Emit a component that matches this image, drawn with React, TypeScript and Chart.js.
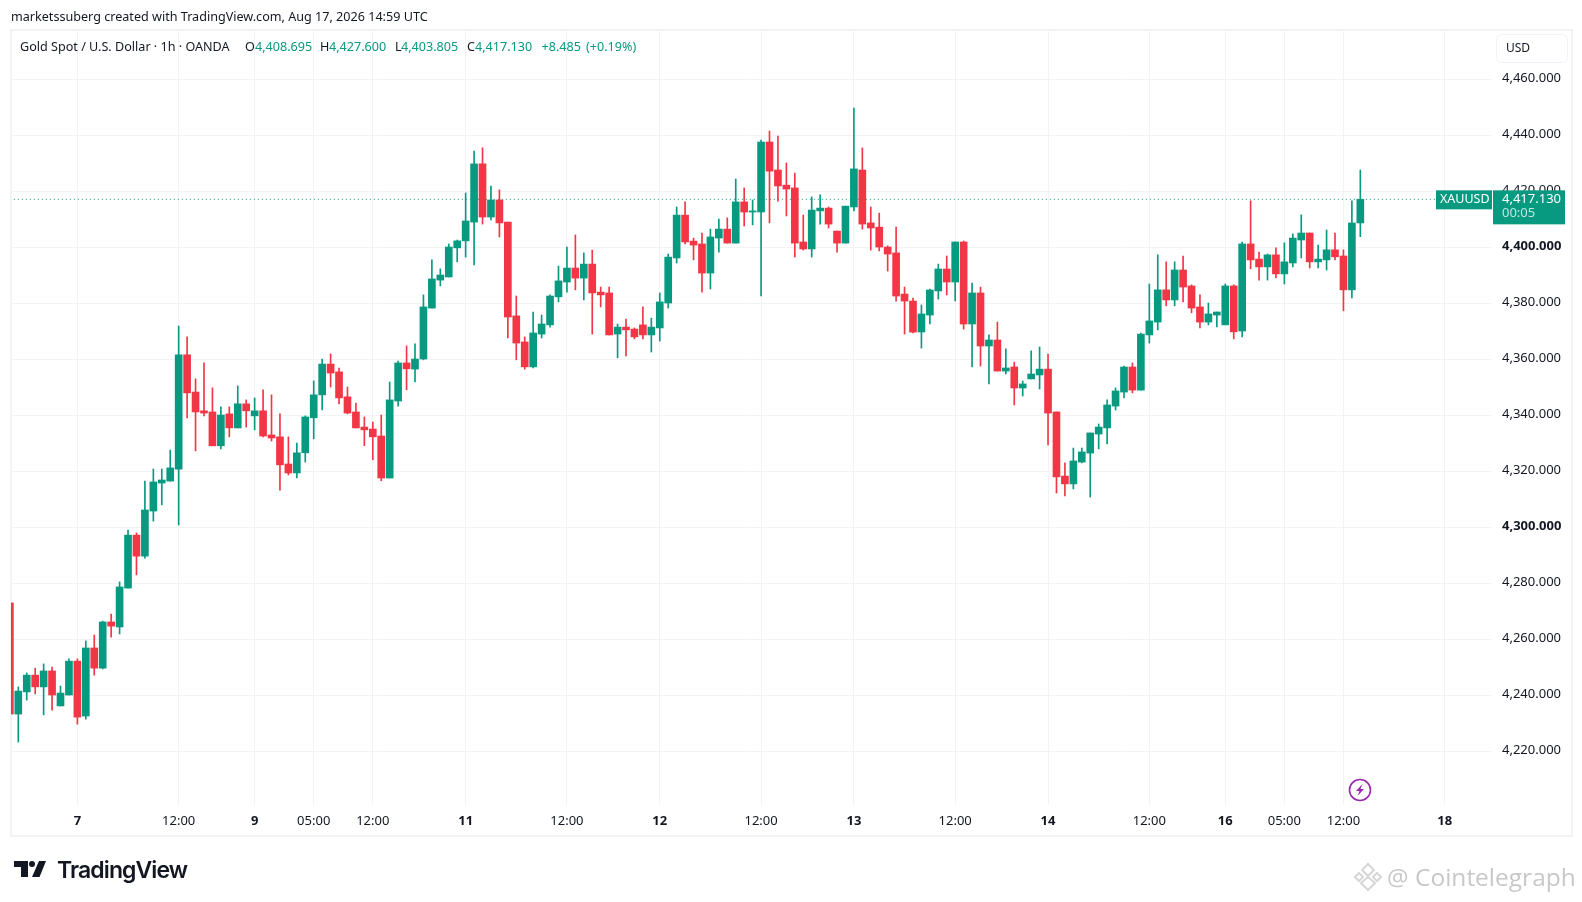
import { useEffect, useRef } from "react";
import { Chart, registerables } from "chart.js";

Chart.register(...registerables);

// hourly candles, the first one is cut by the left edge of the pane
const opens = [
  4273, 4233.3, 4241.2, 4247.2, 4243, 4248.7, 4236.2, 4240.1, 4252.2, 4232.6, 4256.9, 4249.7, 4266.2, 4264.4, 4278.3, 4297.2,
  4289.7, 4305.8, 4315.8, 4316.5, 4320.8, 4361.6, 4348.3, 4341.6, 4341.2, 4329.1, 4340.5, 4335.5, 4344.1, 4339.8, 4341.6, 4333,
  4332.3, 4322.6, 4319.4, 4326.6, 4339.1, 4347.3, 4358.3, 4355.5, 4346.6, 4341.2, 4335.8, 4335.1, 4332.6, 4317.6, 4345.1, 4358.7,
  4356.5, 4360.1, 4378.3, 4388.3, 4389.4, 4399.8, 4402.3, 4409, 4429.8, 4410.8, 4416.9, 4409, 4375.5, 4366.2, 4357.3, 4369,
  4372.3, 4382.3, 4387.6, 4392.6, 4389, 4394, 4384, 4383.7, 4369, 4371.5, 4370.8, 4372.3, 4368.7, 4371.2, 4380.1, 4396.2,
  4411.5, 4402.2, 4401.2, 4390.8, 4403.3, 4406.5, 4401.5, 4416.2, 4412.6, 4412.6, 4437.6, 4427.6, 4422.2, 4421.2, 4401.9, 4399.4,
  4413, 4414, 4405.8, 4401.5, 4414.4, 4427.6, 4408.7, 4407.2, 4400.1, 4398, 4383.3, 4380.8, 4369.75, 4375.8, 4384.4, 4392.25,
  4387.6, 4401.9, 4372.6, 4383.7, 4364.75, 4366.9, 4355.8, 4357.25, 4349.75, 4353, 4354.4, 4356.5, 4341.2, 4318.3, 4315.5, 4323.3,
  4326.5, 4333.3, 4335.5, 4343.3, 4348.3, 4357.25, 4349, 4368.7, 4373.3, 4384.8, 4381.2, 4391.9, 4386.2, 4378.7, 4373.3, 4375.8,
  4372.3, 4386.2, 4370.1, 4401.2, 4395.8, 4393, 4397.3, 4390.5, 4394.4, 4402.6, 4405.1, 4394.8, 4395.5, 4399.1, 4396.9, 4384.8,
  4408.695,
];
const highs = [
  4273, 4243, 4248, 4249.7, 4251.2, 4250.1, 4243.3, 4253, 4253, 4259.4, 4261.5, 4266.5, 4269, 4280.5, 4299, 4298,
  4316.5, 4320.8, 4320.8, 4327.6, 4371.9, 4368, 4353, 4358.7, 4349.8, 4343, 4343, 4350.5, 4345.5, 4346.2, 4349.1, 4347.3,
  4340.5, 4332.3, 4330.1, 4339.8, 4352.3, 4360.1, 4361.9, 4356.9, 4350.1, 4344.4, 4339.4, 4337.6, 4340.1, 4351.9, 4359.4, 4364.8,
  4365.5, 4383, 4395.5, 4392.3, 4401.2, 4402.6, 4419.4, 4434.4, 4435.5, 4421.9, 4420.5, 4409, 4382.6, 4368, 4376.9, 4375.8,
  4383, 4393.3, 4400.1, 4404.4, 4398, 4399, 4385.8, 4385.8, 4372.6, 4374.4, 4371.2, 4378.7, 4374.7, 4383.7, 4397.6, 4414.4,
  4416.2, 4403.3, 4405.1, 4406.5, 4410.1, 4410.5, 4424.4, 4421.2, 4416.9, 4438.3, 4441.5, 4439.7, 4430.1, 4426.5, 4411.5, 4418,
  4418.7, 4414.4, 4405.8, 4414.7, 4449.7, 4435.5, 4414.4, 4412.2, 4400.5, 4407.2, 4385.8, 4381.9, 4379.4, 4385.1, 4394, 4396.9,
  4401.9, 4402.25, 4387.25, 4385.8, 4368.7, 4373.3, 4363.7, 4359, 4352.25, 4363, 4364.4, 4361.9, 4341.2, 4323, 4328.3, 4328.3,
  4333.7, 4336.9, 4345.5, 4349.75, 4357.6, 4358.7, 4369.4, 4386.9, 4397.3, 4394.8, 4394.8, 4396.9, 4386.6, 4383, 4380.1, 4376.9,
  4386.9, 4386.6, 4401.9, 4416.6, 4398.3, 4397.6, 4399.8, 4401.6, 4404.8, 4411.6, 4405.1, 4400.8, 4406.2, 4405.1, 4399.1, 4416.6,
  4427.6,
];
const lows = [
  4233.3, 4223.3, 4238.3, 4240.5, 4233, 4234.7, 4236.2, 4240.1, 4229.7, 4231.5, 4247.2, 4249.4, 4260.8, 4261.9, 4278.3, 4283,
  4289, 4302.2, 4308, 4316.5, 4300.8, 4339.1, 4327.3, 4339.8, 4329.1, 4328, 4332.3, 4335.5, 4335.8, 4334.8, 4332.3, 4330.8,
  4313.3, 4318.7, 4317.6, 4323.3, 4331.6, 4341.9, 4350.1, 4344.1, 4340.5, 4335.5, 4329.1, 4324.1, 4316.6, 4317.6, 4343.3, 4349.1,
  4351.9, 4359.8, 4378.3, 4386.2, 4389.4, 4394.8, 4396.5, 4393.7, 4408.3, 4409.8, 4403.7, 4367.6, 4359.8, 4356.5, 4356.9, 4367.6,
  4371.5, 4380.5, 4384, 4384.8, 4381.2, 4369, 4378.7, 4368.7, 4360.5, 4361.2, 4367.3, 4367.3, 4362.6, 4366.5, 4378.3, 4394.4,
  4401.2, 4395.5, 4384, 4385.1, 4398.3, 4401.5, 4401.5, 4407.6, 4408, 4382.6, 4408.7, 4416.5, 4411.2, 4396.5, 4399, 4396.5,
  4408.3, 4406.9, 4398.3, 4401.5, 4413, 4406.5, 4399, 4398.7, 4391.5, 4380.8, 4369, 4369.4, 4364, 4372.6, 4381.5, 4383,
  4380.8, 4370.8, 4357.25, 4357.6, 4351.2, 4355.8, 4354.75, 4343.7, 4346.9, 4353, 4349.4, 4329.4, 4312.25, 4311.2, 4313.7, 4323,
  4310.8, 4328, 4329.75, 4341.9, 4346.2, 4348, 4349, 4365.8, 4370.5, 4379.1, 4379.1, 4380.5, 4376.6, 4371.2, 4372.3, 4371.6,
  4372.3, 4367.3, 4368, 4392.3, 4388.3, 4388.3, 4389.1, 4386.9, 4393, 4396.2, 4392.6, 4392.6, 4391.9, 4395.5, 4377.3, 4381.9,
  4403.805,
];
const closes = [
  4233.3, 4241.5, 4247.2, 4243, 4248.7, 4240.1, 4240.8, 4252.2, 4232.2, 4256.9, 4249.7, 4266.2, 4264.7, 4278.7, 4297.2, 4289.7,
  4306.2, 4316.2, 4316.9, 4321.2, 4361.6, 4348, 4341.2, 4340.8, 4329.1, 4340.1, 4335.5, 4344.1, 4341.6, 4341.6, 4332.6, 4331.9,
  4322.3, 4319.4, 4326.6, 4339.4, 4347.3, 4358.3, 4355.1, 4346.2, 4340.8, 4335.5, 4334.8, 4332.3, 4317.6, 4345.5, 4358.7, 4356.6,
  4360.1, 4378.7, 4388.7, 4390.1, 4400.1, 4402.3, 4409.4, 4429.8, 4410.8, 4416.9, 4408.7, 4375.1, 4365.8, 4357.3, 4369.4, 4372.6,
  4382.6, 4388, 4392.6, 4389, 4394, 4383.7, 4383, 4368.7, 4371.5, 4370.5, 4368, 4368.7, 4371.5, 4380.5, 4396.5, 4411.5,
  4401.9, 4400.8, 4390.8, 4403.7, 4406.5, 4401.5, 4416.2, 4412.6, 4413, 4437.6, 4427.2, 4421.9, 4420.8, 4401.5, 4399.4, 4413.3,
  4414, 4408.3, 4401.5, 4414.7, 4428, 4408.3, 4406.9, 4400.1, 4397.6, 4382.6, 4380.8, 4369.7, 4376.2, 4384.75, 4392.25, 4387.6,
  4401.9, 4372.6, 4383.7, 4364.75, 4366.9, 4355.8, 4356.9, 4349.75, 4351.2, 4354.75, 4356.5, 4340.8, 4318, 4315.5, 4323.7, 4326.9,
  4333.7, 4335.8, 4343.7, 4348.7, 4357.25, 4349, 4369, 4373.7, 4384.8, 4381.2, 4391.9, 4385.8, 4378.3, 4373.3, 4376.2, 4376.9,
  4386.2, 4369.8, 4401.2, 4395.5, 4393, 4397.3, 4390.5, 4394.8, 4403.3, 4405.1, 4394.8, 4395.8, 4399.1, 4396.6, 4384.8, 4408.7,
  4417.13,
];

const priceTicks = [4220, 4240, 4260, 4280, 4300, 4320, 4340, 4360, 4380, 4400, 4420, 4440, 4460];
const boldPrices = [4300, 4400];
const timeTickBars = [7, 19, 28, 35, 42, 53, 65, 76, 88, 99, 111, 122, 134, 143, 150, 157, 169];
const timeTickLabels = ["7", "12:00", "9", "05:00", "12:00", "11", "12:00", "12", "12:00", "13", "12:00", "14", "12:00", "16", "05:00", "12:00", "18"];
const lastPrice = 4417.13;

const GREEN = "#089981";
const RED = "#F23645";
const GRID = "#f2f3f5";
const INK = "#131722";
const AXIS_FONT = "'Noto Sans'";

// the price labels sit about 1-2px above their grid lines, so they get their own axis
const Y_MIN = 4200.82;
const Y_MAX = 4477.25;
const LABEL_SHIFT = 0.5;

const lastPriceTag = {
  id: "lastPriceTag",
  afterDraw(chart) {
    const { ctx } = chart;
    const y = chart.scales.y.getPixelForValue(lastPrice);
    ctx.save();
    ctx.fillStyle = GREEN;
    ctx.fillRect(1436, y - 9, 56, 19);
    ctx.fillRect(1493, y - 9, 72, 34);
    ctx.textBaseline = "middle";
    ctx.textAlign = "left";
    ctx.fillStyle = "#ffffff";
    ctx.font = `12.5px ${AXIS_FONT}`;
    ctx.fillText("XAUUSD", 1440, y);
    ctx.font = `13px ${AXIS_FONT}`;
    ctx.fillText("4,417.130", 1502, y);
    ctx.fillStyle = "rgba(255,255,255,0.75)";
    ctx.fillText("00:05", 1502, y + 14);
    ctx.restore();
  },
};

function Label({ x, y, size = 11, color = INK, spacing = 0, font = "'Noto Sans'", weight = 400, children }: any) {
  return (
    <span
      style={{
        position: "absolute",
        left: x,
        top: y,
        transform: "translateY(-50%)",
        fontFamily: font,
        fontSize: size,
        fontWeight: weight,
        color,
        letterSpacing: spacing,
        lineHeight: 1,
        whiteSpace: "nowrap",
      }}
    >
      {children}
    </span>
  );
}

export default function App() {
  const canvasRef = useRef<HTMLCanvasElement | null>(null);

  useEffect(() => {
    if (!canvasRef.current) return;

    const xs = opens.map((_, i) => i - 1);
    const colors = opens.map((o, i) => (closes[i] >= o ? GREEN : RED));

    const chart = new Chart(canvasRef.current, {
      type: "bar",
      data: {
        datasets: [
          {
            type: "line",
            data: [
              { x: -1, y: lastPrice },
              { x: 175, y: lastPrice },
            ],
            borderColor: GREEN,
            borderWidth: 1,
            borderDash: [1, 3],
            pointRadius: 0,
            order: 3,
          },
          {
            data: xs.map((x, i) => ({ x, y: [lows[i], highs[i]] })),
            backgroundColor: colors,
            barThickness: 1,
            grouped: false,
            order: 2,
          },
          {
            data: xs.map((x, i) => ({ x, y: [opens[i], closes[i]] })),
            backgroundColor: colors,
            barThickness: 7,
            minBarLength: 1,
            grouped: false,
            order: 1,
          },
        ],
      },
      options: {
        responsive: false,
        animation: false,
        events: [],
        layout: { padding: { left: 11, top: 31, right: 0, bottom: 66 } },
        plugins: { legend: { display: false }, tooltip: { enabled: false } },
        scales: {
          x: {
            type: "linear",
            offset: false,
            min: -0.865,
            max: 174.6,
            afterBuildTicks: (axis) => {
              axis.ticks = timeTickBars.map((value) => ({ value }));
            },
            afterFit: (axis) => {
              axis.height = 31;
            },
            grid: { color: GRID, drawTicks: false, offset: false },
            border: { display: false },
            ticks: {
              autoSkip: false,
              maxRotation: 0,
              padding: 8,
              color: INK,
              font: (ctx) => {
                const label = timeTickLabels[ctx.index] || "";
                return { family: AXIS_FONT, size: 13, weight: label.includes(":") ? "normal" : "bold" };
              },
              callback: (_value, index) => timeTickLabels[index],
            },
          },
          y: {
            position: "right",
            min: Y_MIN,
            max: Y_MAX,
            afterBuildTicks: (axis) => {
              axis.ticks = priceTicks.map((value) => ({ value }));
            },
            afterFit: (axis) => {
              axis.width = 0;
            },
            grid: { color: GRID, drawTicks: false },
            border: { display: false },
            ticks: { display: false },
          },
          labels: {
            position: "right",
            min: Y_MIN - LABEL_SHIFT,
            max: Y_MAX - LABEL_SHIFT,
            afterBuildTicks: (axis) => {
              axis.ticks = priceTicks.map((value) => ({ value }));
            },
            afterFit: (axis) => {
              axis.width = 90;
            },
            grid: { display: false, drawTicks: false },
            border: { display: false },
            ticks: {
              autoSkip: false,
              padding: 10,
              color: INK,
              font: (ctx) => ({
                family: AXIS_FONT,
                size: 13,
                weight: boldPrices.includes(ctx.tick?.value) ? "bold" : "normal",
              }),
              callback: (value) =>
                Number(value).toLocaleString("en-US", { minimumFractionDigits: 3, maximumFractionDigits: 3 }),
            },
          },
        },
      },
      plugins: [lastPriceTag],
    });

    return () => {
      chart.destroy();
    };
  }, []);

  return (
    <div style={{ position: "absolute", left: 0, top: 0, width: 1582, height: 902, background: "#fff", overflow: "hidden" }}>
      <div
        style={{
          position: "absolute",
          left: 10,
          top: 29,
          width: 1559,
          height: 804,
          border: "2px solid #f2f3f4",
        }}
      />
      <canvas ref={canvasRef} width={1582} height={902} style={{ position: "absolute", left: 0, top: 0 }} />

      <Label x={11} y={16.5} size={12.6}>marketssuberg created with TradingView.com, Aug 17, 2026 14:59 UTC</Label>
      <Label x={20} y={46.5} size={12.6}>Gold Spot / U.S. Dollar · 1h · OANDA</Label>
      <Label x={245} y={46.5} size={12.6}>O</Label>
      <Label x={255} y={46.5} size={12.6} color={GREEN}>4,408.695</Label>
      <Label x={320} y={46.5} size={12.6}>H</Label>
      <Label x={329} y={46.5} size={12.6} color={GREEN}>4,427.600</Label>
      <Label x={395} y={46.5} size={12.6}>L</Label>
      <Label x={401} y={46.5} size={12.6} color={GREEN}>4,403.805</Label>
      <Label x={467} y={46.5} size={12.6}>C</Label>
      <Label x={475} y={46.5} size={12.6} color={GREEN}>4,417.130</Label>
      <Label x={541.5} y={46.5} size={12.6} color={GREEN}>+8.485</Label>
      <Label x={586} y={46.5} size={12.6} color={GREEN}>(+0.19%)</Label>

      <div
        style={{
          position: "absolute",
          left: 1496,
          top: 34,
          width: 70,
          height: 27,
          border: "1px solid #f0f3fa",
          borderRadius: 6,
        }}
      />
      <Label x={1506} y={48} size={12}>USD</Label>

      <svg width={24} height={24} viewBox="0 0 24 24" style={{ position: "absolute", left: 1348, top: 778 }}>
        <circle cx={12} cy={12} r={10.5} fill="none" stroke="#9c27b0" strokeWidth={1.6} />
        <path d="M14.5 6 L8 13 H11.5 L9.5 18 L16 11 H12.5 Z" fill="#9c27b0" />
      </svg>

      <svg width={34} height={18} viewBox="0 0 34 18" style={{ position: "absolute", left: 14, top: 860 }}>
        <path d="M0 1 H14 V17 H7 V7 H0 Z" fill="#131722" />
        <circle cx={18} cy={4} r={3} fill="#131722" />
        <path d="M25 1 H32 L25.5 17 H18 Z" fill="#131722" />
      </svg>
      <Label x={57} y={869.5} size={23} font="Inter" weight={600} spacing={-0.9} color="#131722">TradingView</Label>

      <svg width={30} height={30} viewBox="0 0 30 30" style={{ position: "absolute", left: 1353, top: 862 }}>
        <g fill="none" stroke="#d6d6d6" strokeWidth={2}>
          <path d="M15 2 L21 8 L15 14 L9 8 Z" />
          <path d="M6 11 L10 15 L6 19 L2 15 Z" />
          <path d="M24 11 L28 15 L24 19 L20 15 Z" />
          <path d="M15 15 L22 21 L15 28 L8 21 Z" />
        </g>
      </svg>
      <Label x={1387} y={877} size={24} font="'Open Sans'" color="#c8c8c8">@</Label>
      <Label x={1415} y={877} size={24.5} font="'Open Sans'" color="#c8c8c8">Cointelegraph</Label>
    </div>
  );
}
